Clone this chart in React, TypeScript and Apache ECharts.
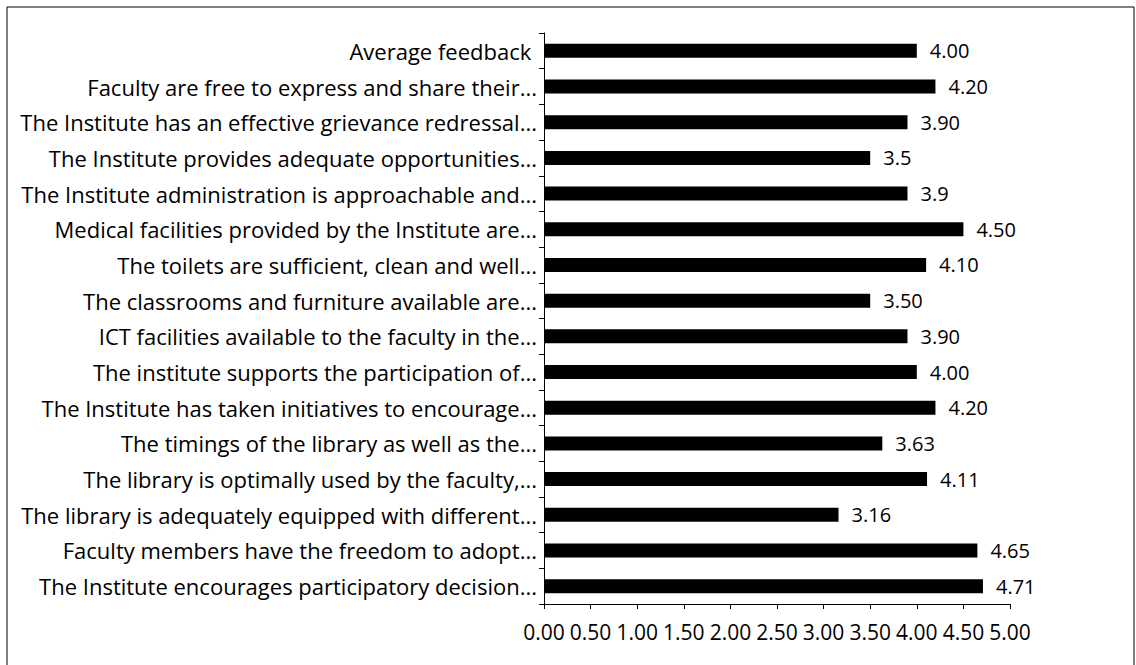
import React, { useEffect, useRef } from "react";
import * as echarts from "echarts";

const categories: string[] = [
  "Average feedback ",
  "Faculty are free to express and share their...",
  "The Institute has an effective grievance redressal...",
  "The Institute provides adequate opportunities...",
  "The Institute administration is approachable and...",
  "Medical facilities provided by the Institute are...",
  "The toilets are sufficient, clean and well...",
  "The classrooms and furniture available are...",
  "ICT facilities available to the faculty in the...",
  "The institute supports the participation of...",
  "The Institute has taken initiatives to encourage...",
  "The timings of the library as well as the...",
  "The library is optimally used by the faculty,...",
  "The library is adequately equipped with different...",
  "Faculty members have the freedom to adopt...",
  "The Institute encourages participatory decision...",
];

const values: number[] = [4.0, 4.2, 3.9, 3.5, 3.9, 4.5, 4.1, 3.5, 3.9, 4.0, 4.2, 3.63, 4.11, 3.16, 4.65, 4.71];

const valueLabels: string[] = [
  "4.00", "4.20", "3.90", "3.5", "3.9", "4.50", "4.10", "3.50",
  "3.90", "4.00", "4.20", "3.63", "4.11", "3.16", "4.65", "4.71",
];

const FONT = "Open Sans";

export default function App() {
  const ref = useRef<HTMLDivElement>(null);
  useEffect(() => {
    document.body.style.margin = "0";
    const chart = echarts.init(ref.current!, null, { renderer: "svg" });
    chart.setOption({
      animation: false,
      backgroundColor: "#ffffff",
      textStyle: { fontFamily: FONT, color: "#000" },
      graphic: [
        {
          type: "rect",
          shape: { x: 7, y: 7, width: 1127, height: 700 },
          style: { fill: "none", stroke: "#000", lineWidth: 1 },
          silent: true,
        },
      ],
      grid: { left: 544, right: 126, top: 33, bottom: 61, containLabel: false },
      xAxis: {
        type: "value",
        min: 0,
        max: 5,
        interval: 0.5,
        splitLine: { show: false },
        axisLine: { show: true, lineStyle: { color: "#000", width: 1 } },
        axisTick: { show: true, length: 5, lineStyle: { color: "#000" } },
        axisLabel: {
          color: "#000",
          fontFamily: FONT,
          fontSize: 21,
          margin: 17,
          formatter: (v: number) => v.toFixed(2),
        },
      },
      yAxis: {
        type: "category",
        data: categories,
        inverse: true,
        axisLine: { show: true, lineStyle: { color: "#000", width: 1 } },
        axisTick: { show: true, length: 5, lineStyle: { color: "#000" } },
        axisLabel: { color: "#000", fontFamily: FONT, fontSize: 22, margin: 7 },
      },
      series: [
        {
          type: "bar",
          data: values,
          barWidth: 14,
          itemStyle: { color: "#000" },
          label: {
            show: true,
            position: "right",
            distance: 13,
            color: "#000",
            fontFamily: FONT,
            fontSize: 20,
            formatter: (p: any) => valueLabels[p.dataIndex],
          },
        },
      ],
    });
    return () => chart.dispose();
  }, []);
  return <div ref={ref} style={{ width: 1136, height: 665 }} />;
}
